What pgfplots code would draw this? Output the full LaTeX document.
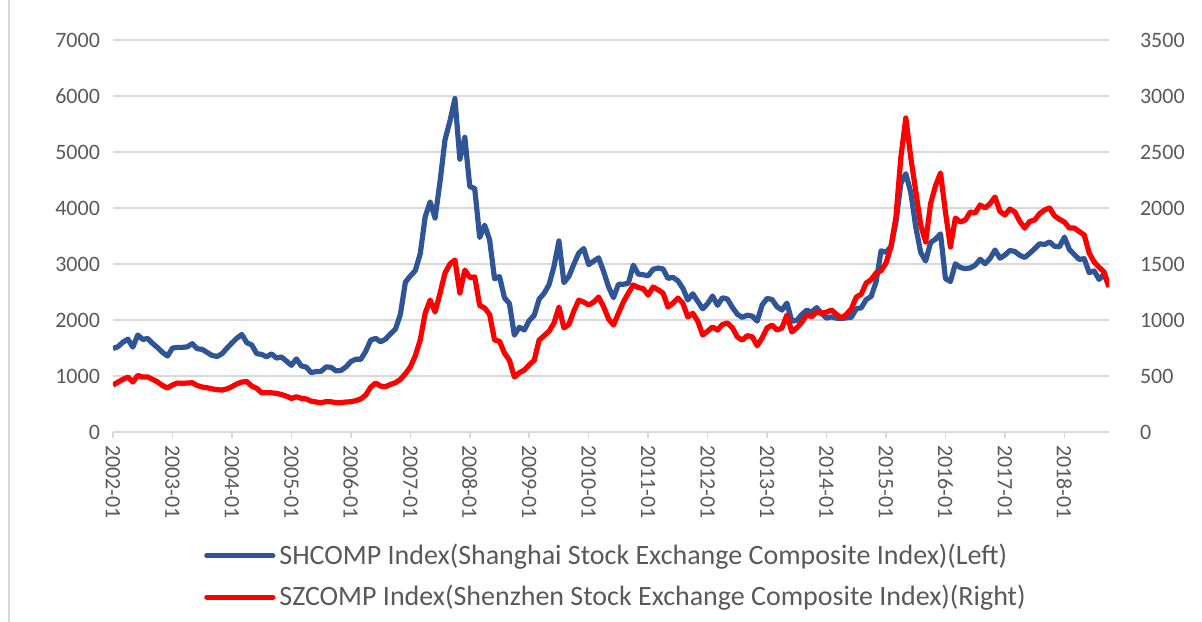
\documentclass[border=0pt]{standalone}
\usepackage{pgfplots}
\pgfplotsset{compat=1.18}
\usepackage{pgfplotstable}
\usepackage{fontspec}
\setmainfont{Carlito}

\definecolor{shblue}{RGB}{47,85,151}
\definecolor{gridgray}{RGB}{217,217,217}
\definecolor{labgray}{RGB}{89,89,89}

% monthly closes, m = months since 2002-01; sh = SHCOMP (left), sz = SZCOMP (right)
\pgfplotstableread{
m sh sz
0 1490 420
1 1524 445
2 1603 470
3 1658 490
4 1516 446
5 1732 505
6 1653 490
7 1669 492
8 1581 470
9 1507 446
10 1421 415
11 1357 393
12 1499 420
13 1511 437
14 1511 435
15 1521 437
16 1577 440
17 1487 415
18 1476 402
19 1421 395
20 1367 385
21 1349 378
22 1397 375
23 1497 385
24 1590 405
25 1675 430
26 1742 446
27 1595 450
28 1555 410
29 1399 390
30 1386 350
31 1342 352
32 1396 350
33 1320 345
34 1340 335
35 1266 320
36 1191 300
37 1306 315
38 1181 300
39 1159 295
40 1060 275
41 1080 268
42 1083 260
43 1162 272
44 1155 270
45 1092 262
46 1099 262
47 1161 268
48 1258 270
49 1299 280
50 1298 295
51 1440 330
52 1641 400
53 1672 437
54 1612 410
55 1658 405
56 1752 425
57 1837 440
58 2099 470
59 2675 520
60 2786 580
61 2881 680
62 3183 821
63 3841 1062
64 4109 1178
65 3820 1071
66 4471 1240
67 5218 1420
68 5552 1500
69 5954 1536
70 4871 1241
71 5262 1446
72 4383 1380
73 4348 1384
74 3473 1130
75 3693 1107
76 3433 1050
77 2736 821
78 2775 810
79 2397 705
80 2293 640
81 1729 491
82 1871 530
83 1821 553
84 1991 600
85 2082 640
86 2373 821
87 2477 860
88 2632 900
89 2959 973
90 3412 1116
91 2667 929
92 2779 960
93 2996 1080
94 3195 1178
95 3277 1160
96 2989 1134
97 3051 1160
98 3110 1205
99 2870 1120
100 2593 1010
101 2398 955
102 2638 1060
103 2639 1161
104 2656 1240
105 2979 1313
106 2820 1290
107 2808 1280
108 2790 1223
109 2905 1295
110 2928 1270
111 2911 1240
112 2743 1116
113 2762 1150
114 2701 1196
115 2567 1150
116 2359 1027
117 2468 1060
118 2333 990
119 2199 866
120 2293 900
121 2428 938
122 2263 910
123 2397 960
124 2373 973
125 2225 930
126 2103 848
127 2047 820
128 2086 860
129 2069 850
130 1980 770
131 2269 840
132 2385 930
133 2366 955
134 2237 910
135 2178 929
136 2301 1045
137 1979 893
138 1994 930
139 2098 980
140 2175 1045
141 2141 1030
142 2221 1071
143 2116 1060
144 2033 1070
145 2056 1089
146 2033 1050
147 2026 1018
148 2039 1050
149 2048 1100
150 2202 1205
151 2217 1230
152 2364 1330
153 2420 1360
154 2683 1420
155 3235 1440
156 3210 1509
157 3310 1652
158 3748 1920
159 4442 2455
160 4612 2804
161 4277 2450
162 3664 2150
163 3206 1850
164 3053 1696
165 3383 2040
166 3445 2200
167 3539 2313
168 2738 1960
169 2688 1652
170 3004 1911
171 2938 1875
172 2917 1893
173 2930 1964
174 2979 1955
175 3085 2027
176 3005 2000
177 3100 2040
178 3250 2098
179 3104 1969
180 3159 1938
181 3242 1991
182 3223 1964
183 3155 1880
184 3117 1821
185 3192 1880
186 3273 1893
187 3361 1950
188 3349 1982
189 3393 2000
190 3317 1930
191 3307 1899
192 3481 1875
193 3259 1821
194 3169 1821
195 3082 1790
196 3095 1759
197 2847 1598
198 2876 1518
199 2725 1470
200 2821 1429
201 2603 1295
}\idx

\pgfplotsset{
  base/.style={
    scale only axis, width=498pt, height=196pt,
    xmin=0, xmax=201, ymin=0,
    axis line style={draw=none},
    tick align=outside,
    major tick length=3pt,
    ticklabel style={font=\fontsize{11}{13}\selectfont, text=labgray},
    /pgf/number format/assume math mode=true,
    /pgf/number format/1000 sep={},
  },
}

\begin{document}
\begin{tikzpicture}
\begin{axis}[
    base,
    ymax=7000,
    ytick={0,1000,...,7000},
    ytick pos=left,
    ytick style={draw=none},
    ymajorgrids=true,
    grid style={gridgray, line width=0.75pt},
    xtick={0,12,...,192},
    xtick pos=bottom,
    xtick style={gridgray, line width=0.75pt},
    xticklabels={2002-01,2003-01,2004-01,2005-01,2006-01,2007-01,2008-01,2009-01,2010-01,2011-01,2012-01,2013-01,2014-01,2015-01,2016-01,2017-01,2018-01},
    xticklabel style={rotate=-90, anchor=west},
]
\coordinate (pa) at (rel axis cs:0,0);
\coordinate (pb) at (rel axis cs:1,1);
\addplot[shblue, line width=2.6pt, line join=round] table[x=m, y=sh] {\idx};
\end{axis}

\begin{axis}[
    base,
    ymax=3500,
    ytick={0,500,...,3500},
    ytick pos=right,
    yticklabel pos=right,
    ytick style={draw=none},
    yticklabel style={xshift=9pt},
    hide x axis,
    legend style={at={(0.506,-0.3686)}, anchor=center, draw=none, fill=none,
        font=\fontsize{14}{16}\selectfont, text=labgray, row sep=5pt,
        inner xsep=0pt, cells={anchor=west}},
    legend image code/.code={\draw[#1, line cap=round] (0pt,0pt) -- (33pt,0pt);},
]
\addlegendimage{shblue, line width=2.6pt}
\addlegendentry{SHCOMP Index(Shanghai Stock Exchange Composite Index)(Left)}
\addplot[red, line width=2.6pt, line join=round] table[x=m, y=sz] {\idx};
\addlegendentry{SZCOMP Index(Shenzhen Stock Exchange Composite Index)(Right)}
\end{axis}

\draw[gridgray, line width=0.75pt] ([xshift=-52pt, yshift=-95pt]pa) -- ++(0,311pt);
\pgfresetboundingbox
\path[use as bounding box] ([xshift=-56.5pt, yshift=-95pt]pa) rectangle ([xshift=46.5pt, yshift=20pt]pb);
\end{tikzpicture}
\end{document}
